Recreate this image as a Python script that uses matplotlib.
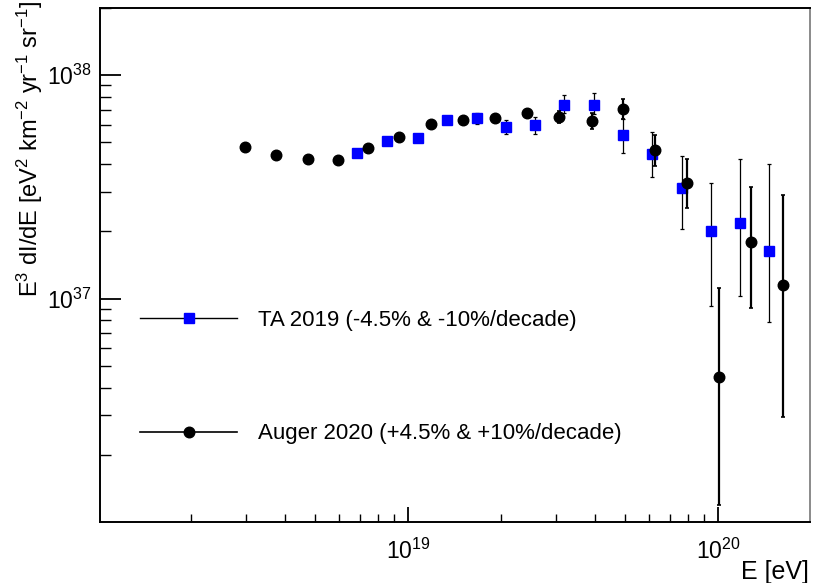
import matplotlib
matplotlib.use("Agg")
import matplotlib.pyplot as plt
from matplotlib.lines import Line2D
from matplotlib.ticker import FixedLocator, LogLocator, NullFormatter, FuncFormatter
import numpy as np

plt.rcParams['font.family'] = ['Liberation Sans', 'DejaVu Sans']
plt.rcParams['mathtext.fontset'] = 'custom'
plt.rcParams['mathtext.rm'] = 'Liberation Sans'
plt.rcParams['mathtext.it'] = 'Liberation Sans:italic'
plt.rcParams['mathtext.default'] = 'regular'

# ---- data ----
ta_E = [6.84e18, 8.55e18, 1.077e19, 1.336e19, 1.67e19, 2.07e19, 2.57e19, 3.18e19,
        3.98e19, 4.94e19, 6.12e19, 7.65e19, 9.49e19, 1.177e20, 1.46e20]
ta_F = [4.50e37, 5.09e37, 5.25e37, 6.32e37, 6.46e37, 5.89e37, 6.01e37, 7.38e37,
        7.38e37, 5.42e37, 4.46e37, 3.14e37, 2.00e37, 2.17e37, 1.64e37]
ta_hi = [4.60e37, 5.20e37, 5.37e37, 6.47e37, 6.80e37, 6.32e37, 6.52e37, 8.19e37,
         8.36e37, 6.39e37, 5.58e37, 4.37e37, 3.31e37, 4.23e37, 4.02e37]
ta_lo = [4.40e37, 4.98e37, 5.13e37, 6.17e37, 6.07e37, 5.47e37, 5.47e37, 6.80e37,
         6.73e37, 4.50e37, 3.52e37, 2.06e37, 9.31e36, 1.03e37, 7.82e36]

au_E = [2.98e18, 3.75e18, 4.75e18, 5.94e18, 7.43e18, 9.35e18, 1.187e19, 1.50e19,
        1.91e19, 2.42e19, 3.07e19, 3.92e19, 4.94e19, 6.27e19, 7.94e19, 1.007e20,
        1.277e20, 1.62e20]
au_F = [4.79e37, 4.41e37, 4.23e37, 4.19e37, 4.74e37, 5.31e37, 6.07e37, 6.32e37,
        6.46e37, 6.80e37, 6.52e37, 6.25e37, 7.08e37, 4.65e37, 3.31e37, 4.44e36,
        1.80e37, 1.156e37]
au_hi = [4.85e37, 4.47e37, 4.29e37, 4.26e37, 4.82e37, 5.41e37, 6.20e37, 6.48e37,
         6.65e37, 7.05e37, 6.93e37, 6.80e37, 7.85e37, 5.42e37, 4.23e37, 1.11e37,
         3.17e37, 2.92e37]
au_lo = [4.73e37, 4.35e37, 4.17e37, 4.12e37, 4.66e37, 5.21e37, 5.94e37, 6.16e37,
         6.27e37, 6.55e37, 6.13e37, 5.77e37, 6.39e37, 3.94e37, 2.55e37, 1.19e36,
         9.12e36, 2.94e36]

ta_label = "TA 2019 (-4.5% & -10%/decade)"
au_label = "Auger 2020 (+4.5% & +10%/decade)"

W, H = 813, 583
fig = plt.figure(figsize=(W / 100, H / 100), dpi=100)
ax = fig.add_axes([100 / W, 1 - 522 / H, 710 / W, 514 / H])
ax.set_xscale('log')
ax.set_yscale('log')

ta_F_a = np.array(ta_F)
au_F_a = np.array(au_F)
ta_err = [ta_F_a - np.array(ta_lo), np.array(ta_hi) - ta_F_a]
au_err = [au_F_a - np.array(au_lo), np.array(au_hi) - au_F_a]

ax.errorbar(ta_E, ta_F, yerr=ta_err, fmt='s', color='#0000ff', ms=7.8,
            mec='#0000ff', ecolor='black', elinewidth=0.9, capsize=1.5,
            capthick=0.9, zorder=3)
ax.errorbar(au_E, au_F, yerr=au_err, fmt='o', color='black', ms=7.6,
            ecolor='black', elinewidth=1.6, capsize=1.5, capthick=1.2, zorder=4)

ax.set_xlim(1.016e18, 1.98e20)
ax.set_ylim(1.0e36, 2.0e38)

ax.xaxis.set_major_locator(FixedLocator([1e19, 1e20]))
ax.yaxis.set_major_locator(FixedLocator([1e37, 1e38]))
ax.xaxis.set_minor_locator(LogLocator(base=10, subs=np.arange(2, 10), numticks=20))
ax.yaxis.set_minor_locator(LogLocator(base=10, subs=np.arange(2, 10), numticks=20))
ax.xaxis.set_minor_formatter(NullFormatter())
ax.yaxis.set_minor_formatter(NullFormatter())
fmt = FuncFormatter(lambda v, p: r'$10^{%d}$' % int(round(np.log10(v))))
ax.xaxis.set_major_formatter(fmt)
ax.yaxis.set_major_formatter(fmt)

ax.tick_params(which='both', direction='in', top=False, right=False,
               labelsize=16.5, color='black')
ax.tick_params(axis='y', which='major', length=15, width=1.3, pad=6)
ax.tick_params(axis='y', which='minor', length=8, width=1.0)
ax.tick_params(axis='x', which='major', length=11, width=1.3, pad=12)
ax.tick_params(axis='x', which='minor', length=6, width=1.0)

for s in ['left', 'bottom', 'top']:
    ax.spines[s].set_linewidth(1.4)
ax.spines['right'].set_linewidth(1.2)
ax.spines['right'].set_color('#777777')

fig.text(809 / W, 1 - 572 / H, 'E [eV]', ha='right', va='center', fontsize=18)
fig.text(30 / W, 1 - 1 / H,
         r'E$^{3}$ dI/dE [eV$^{2}$ km$^{-2}$ yr$^{-1}$ sr$^{-1}$]',
         rotation=90, ha='center', va='top', fontsize=17)

h_ta = Line2D([], [], color='black', lw=1.0, marker='s', ms=7.8,
              mfc='#0000ff', mec='#0000ff')
h_au = Line2D([], [], color='black', lw=1.2, marker='o', ms=7.6,
              mfc='black', mec='black')
leg = ax.legend([h_ta, h_au], [ta_label, au_label], loc='upper left',
                bbox_to_anchor=(140 / W, 1 - 310 / H),
                bbox_transform=fig.transFigure, frameon=False, fontsize=16,
                handlelength=4.37, handletextpad=0.95, labelspacing=4.16,
                borderpad=0, borderaxespad=0, numpoints=1)

fig.savefig('out.png', dpi=100)
